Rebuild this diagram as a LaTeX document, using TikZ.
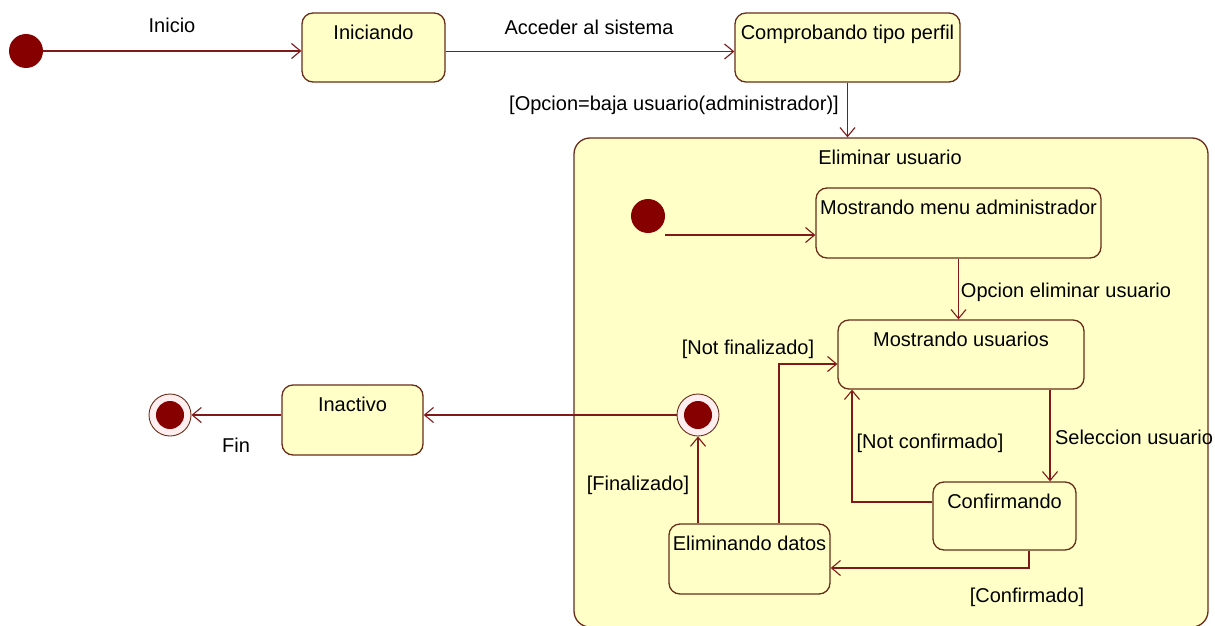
\documentclass[tikz,border=0pt]{standalone}
\usepackage{fontspec}
\setmainfont{Liberation Sans}
\usetikzlibrary{arrows.meta,calc}
\definecolor{fillc}{RGB}{255,255,200}
\definecolor{edgec}{RGB}{105,45,25}
\definecolor{linec}{RGB}{128,25,25}
\definecolor{dotc}{RGB}{135,0,0}
\definecolor{gapc}{RGB}{255,238,240}
\begin{document}
\begin{tikzpicture}[x=1pt,y=-1pt, font=\fontsize{20}{23}\selectfont,
  state/.style={draw=edgec, fill=fillc, rounded corners=11pt, line width=1.3pt, inner sep=0pt, rectangle},
  tr/.style={draw=linec, line width=1.2pt, -{Straight Barb[length=9pt,width=15pt,line width=1.1pt]}},
  lab/.style={inner sep=0pt, text=black},
  initst/.style={circle, fill=dotc, minimum size=34pt, inner sep=0pt},
  finout/.style={circle, draw=edgec, line width=0.9pt, fill=gapc, minimum size=42pt, inner sep=0pt},
  finin/.style={circle, fill=dotc, minimum size=28pt, inner sep=0pt},
  boxlabel/.style={label={[lab,anchor=north,yshift=-12pt]north:#1}}]
\useasboundingbox (0,0) rectangle (1215,626);
\fill[white] (0,0) rectangle (1215,626);

% container
\node[state, rounded corners=16pt, minimum width=634pt, minimum height=489pt] (cont) at (891,382.5) {};
\node[lab] (conttitle) at (890,157) {Eliminar usuario};

% top states
\node[initst] (init1) at (26,51) {};
\node[state, boxlabel=Iniciando, minimum width=143pt, minimum height=69pt] (ini) at (373.5,47.5) {};
\node[state, boxlabel=Comprobando tipo perfil, minimum width=225pt, minimum height=69pt] (cpt) at (847.5,47.5) {};

% inner states
\node[initst] (init2) at (648,216) {};
\node[state, boxlabel=Mostrando menu administrador, minimum width=285pt, minimum height=70pt] (menu) at (958.5,223) {};
\node[state, boxlabel=Mostrando usuarios, minimum width=246pt, minimum height=69pt] (usr) at (961,354.5) {};
\node[state, boxlabel=Confirmando, minimum width=143pt, minimum height=68pt] (conf) at (1004.5,516) {};
\node[state, boxlabel=Eliminando datos, minimum width=161pt, minimum height=70pt] (elim) at (749.5,559) {};
\node[finout] (fin2) at (698,415) {};
\node[finin] (fin2c) at (698,415) {};

% left states
\node[state, boxlabel=Inactivo, minimum width=141pt, minimum height=70pt] (inact) at (352.5,420) {};
\node[finout] (fin1) at (170,415) {};
\node[finin] (fin1c) at (170,415) {};

% coordinates
\coordinate (a2) at (665,235);
\coordinate (xsel) at (1050,0);
\coordinate (ync) at (0,502);
\coordinate (xnc) at (852,0);
\coordinate (xcf) at (1029,0);
\coordinate (ycf) at (0,568);
\coordinate (xnf) at (779,0);
\coordinate (ynf) at (0,364);

% transitions
\draw[tr] (init1.east) -- (init1.east -| ini.west);
\draw[tr] ([yshift=-4pt]ini.east) -- ([yshift=-4pt]cpt.west);
\draw[tr] (cpt.south) -- (cpt.south |- cont.north);
\draw[tr] (a2) -- (a2 -| menu.west);
\draw[tr] (menu.south) -- (menu.south |- usr.north);
\draw[tr] (xsel |- usr.south) -- (xsel |- conf.north);
\draw[tr] (conf.west |- ync) -| (xnc |- usr.south);
\draw[tr] (xcf |- conf.south) |- (elim.east |- ycf);
\draw[tr] (fin2.south |- elim.north) -- (fin2.south);
\draw[tr] (xnf |- elim.north) |- (usr.west |- ynf);
\draw[tr] (fin2.west) -- (fin2.west -| inact.east);
\draw[tr] (fin1.east -| inact.west) -- (fin1.east);

% labels
\node[lab] (l1) at (172,25) {Inicio};
\node[lab] (l2) at (589,27) {Acceder al sistema};
\node[lab] (l3) at (674,105) {[Opcion=baja usuario(administrador)]};
\node[lab] (l4) at (1066,292) {Opcion eliminar usuario};
\node[lab] (l5) at (748,349) {[Not finalizado]};
\node[lab] (l6) at (638,485) {[Finalizado]};
\node[lab] (l7) at (930,443) {[Not confirmado]};
\node[lab] (l8) at (1134,437) {Seleccion usuario};
\node[lab] (l9) at (1027,597) {[Confirmado]};
\node[lab] (l10) at (236,445) {Fin};
\end{tikzpicture}
\end{document}
